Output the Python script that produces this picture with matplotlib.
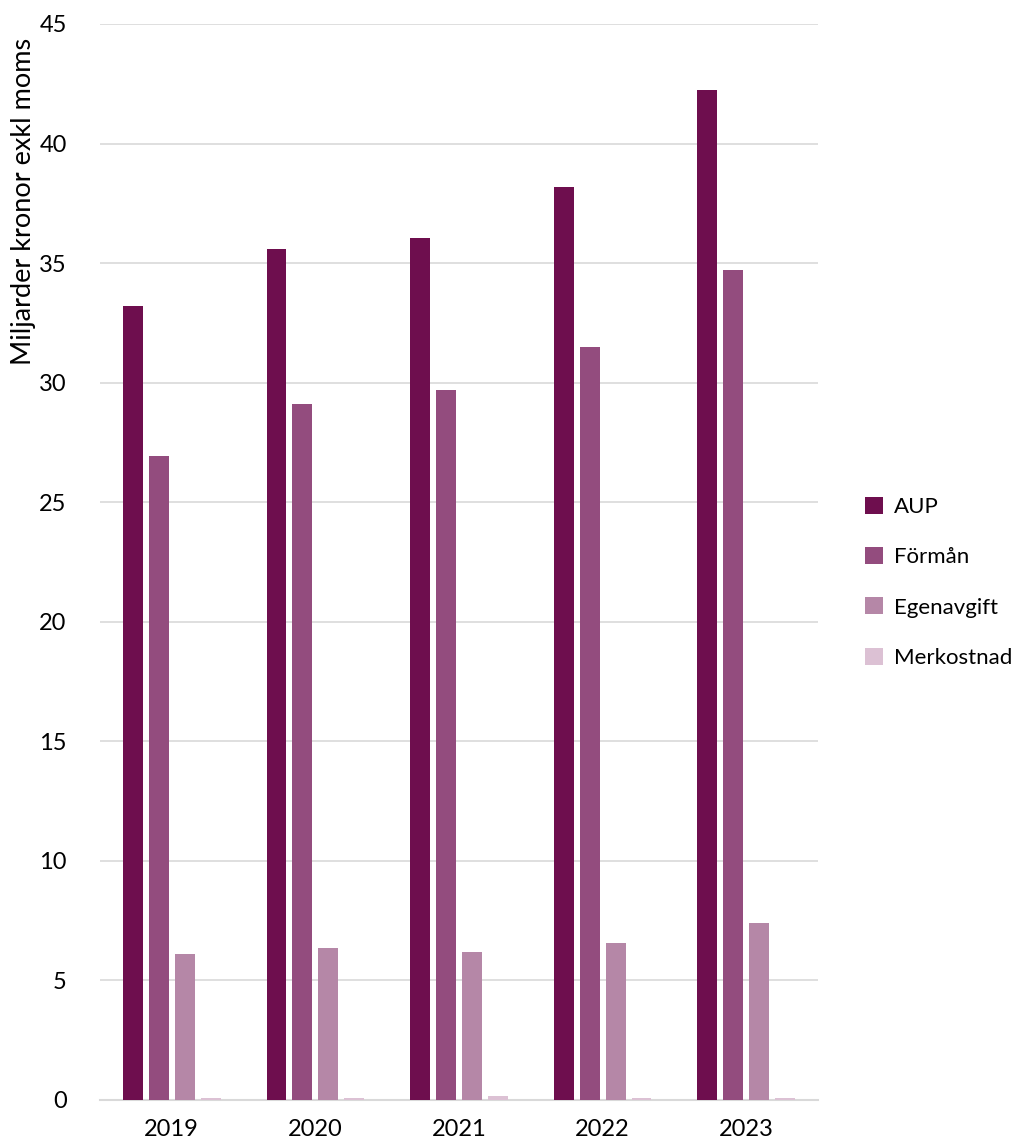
import matplotlib
matplotlib.use("Agg")
import matplotlib.pyplot as plt
import numpy as np

years = ["2019", "2020", "2021", "2022", "2023"]
series_names = ["AUP", "Förmån", "Egenavgift", "Merkostnad"]
aup = [33.2, 35.6, 36.05, 38.2, 42.25]
forman = [26.95, 29.1, 29.7, 31.5, 34.7]
egenavgift = [6.1, 6.35, 6.2, 6.55, 7.4]
merkostnad = [0.1, 0.1, 0.15, 0.1, 0.1]
colors = ["#6E0E4E", "#934C7E", "#B587A7", "#DCC1D4"]

plt.rcParams['font.family'] = ['Lato', 'DejaVu Sans']

fig = plt.figure(figsize=(10.27, 11.44), dpi=100)
ax = fig.add_axes([100/1027, 44/1144, 718/1027, 1076/1144])

x = np.arange(len(years))
bw = 20/144
pitch = 26/144
data = [aup, forman, egenavgift, merkostnad]
for i, (vals, name, c) in enumerate(zip(data, series_names, colors)):
    ax.bar(x + (i - 1.5) * pitch, vals, width=bw, color=c, label=name, zorder=3)

ax.set_xlim(-0.5, 4.5)
ax.set_ylim(0, 45)
ax.set_yticks(np.arange(0, 46, 5))
ax.yaxis.grid(True, color="#D9D9D9", linewidth=1.2, zorder=0)
for s in ["top", "right", "left"]:
    ax.spines[s].set_visible(False)
ax.spines["bottom"].set_color("#D9D9D9")
ax.spines["bottom"].set_linewidth(1.5)
ax.tick_params(axis="both", length=0, labelsize=17, colors="black")
ax.tick_params(axis="y", pad=24)
ax.tick_params(axis="x", pad=14)
ax.set_xticks(x)
ax.set_xticklabels(years)
ax.set_ylabel("Miljarder kronor exkl moms", fontsize=19.5, va="center")
ax.yaxis.set_label_coords(-0.106, (1100 - 201) / 1076)

leg = fig.legend(loc="upper left", bbox_to_anchor=(845/1027, 1 - 477/1144),
                 frameon=False, fontsize=16, handlelength=0.8, handleheight=0.8,
                 labelspacing=1.35, handletextpad=0.5)

fig.savefig("out.png", dpi=100)
